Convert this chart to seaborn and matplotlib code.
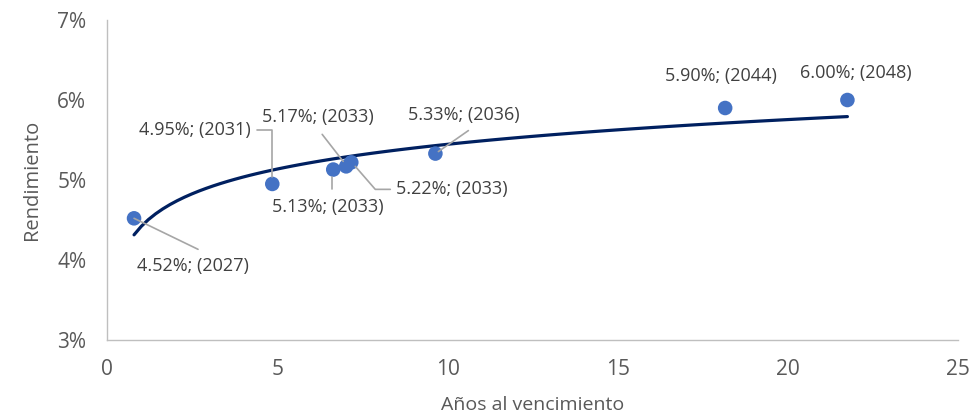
"""Curva de rendimiento: rendimiento vs. años al vencimiento con tendencia logarítmica."""

import matplotlib

matplotlib.use("Agg")

import matplotlib.pyplot as plt
import numpy as np
import pandas as pd
import seaborn as sns
from matplotlib.ticker import FuncFormatter

# data
years_to_maturity = [0.79, 4.85, 6.64, 7.02, 7.17, 9.64, 18.15, 21.74]
yields_pct = [4.52, 4.95, 5.13, 5.17, 5.22, 5.33, 5.90, 6.00]
maturity_year = [2027, 2031, 2033, 2033, 2033, 2036, 2044, 2048]

# label placement, in pixels relative to each point (+y is down)
label_offsets = [(3, 48), (-22, -54), (-61, 37), (-84, -49), (45, 27),
                 (-27, -39), (-60, -32), (-47, -27)]
label_ha = ["left", "right", "left", "left", "left", "left", "left", "left"]
leader_paths = [
    [(0, 0), (64, 31)],
    [(-15, -54), (0, -54), (0, -7)],
    [(-1, 19), (-1, 7)],
    [(-24, -32), (-3, -5)],
    [(4, 4), (24, 27), (39, 27)],
    [(33, -23), (3, -2)],
    None,
    None,
]

df = pd.DataFrame({"anios": years_to_maturity, "rend": yields_pct,
                   "anio": maturity_year})

sns.set_style("white")
plt.rcParams["font.family"] = ["Open Sans", "DejaVu Sans"]

fig = plt.figure(figsize=(9.74, 4.18), dpi=100)
ax = fig.add_axes([0.110, 0.187, 0.874, 0.765])

sns.regplot(data=df, x="anios", y="rend", logx=True, scatter=False, ci=None,
            truncate=True, line_kws={"color": "#002060", "lw": 2.3}, ax=ax)
sns.scatterplot(data=df, x="anios", y="rend", s=110, color="#4472C4",
                edgecolor="none", zorder=3, ax=ax)

ax.set_xlim(0, 25)
ax.set_ylim(3, 7)
ax.set_xticks(np.arange(0, 26, 5))
ax.set_yticks(np.arange(3, 8, 1))
ax.yaxis.set_major_formatter(FuncFormatter(lambda v, _: f"{v:.0f}%"))
ax.tick_params(axis="both", labelsize=15, labelcolor="#595959", length=0)
ax.tick_params(axis="x", pad=14)
ax.tick_params(axis="y", pad=15)
ax.set_xlabel("Años al vencimiento", fontsize=14, color="#595959", labelpad=11)
ax.set_ylabel("Rendimiento", fontsize=14.5, color="#595959", labelpad=11)
for side in ["top", "right"]:
    ax.spines[side].set_visible(False)
for side in ["left", "bottom"]:
    ax.spines[side].set_color("#BFBFBF")
    ax.spines[side].set_linewidth(1)

fig.canvas.draw()
to_data = ax.transData.inverted()
for x, y, yr, (dx, dy), ha, path in zip(years_to_maturity, yields_pct,
                                         maturity_year, label_offsets,
                                         label_ha, leader_paths):
    px, py = ax.transData.transform((x, y))
    tx, ty = to_data.transform((px + dx, py - dy))
    ax.text(tx, ty, f"{y:.2f}%; ({yr})", ha=ha, va="center", fontsize=13,
            color="#404040", zorder=4)
    if path:
        pts = to_data.transform([(px + ox, py - oy) for ox, oy in path])
        ax.plot(pts[:, 0], pts[:, 1], color="#A6A6A6", lw=1.2, zorder=4)

fig.savefig("out.png", dpi=100)
plt.close(fig)
